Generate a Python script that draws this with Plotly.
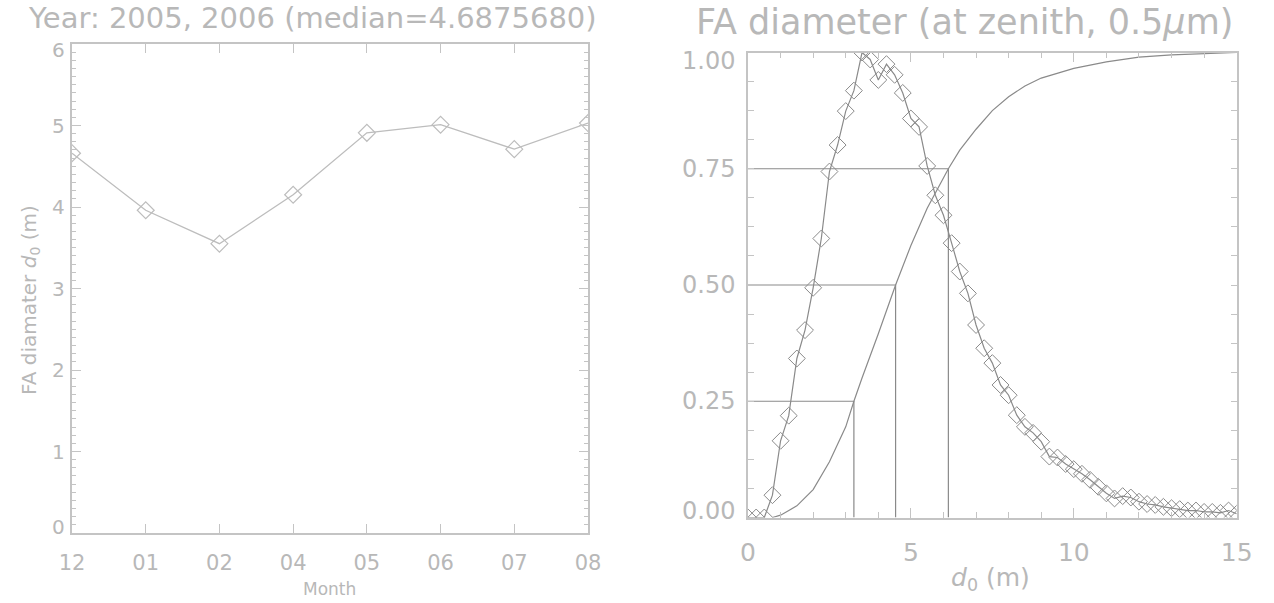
import plotly.graph_objects as go

# ---------------- data ----------------
months = ["12", "01", "02", "04", "05", "06", "07", "08"]
month_d0 = [4.66, 3.96, 3.55, 4.15, 4.91, 5.01, 4.71, 5.03]

hist_x = [0.00, 0.25, 0.50, 0.75, 1.00, 1.25, 1.50, 1.75, 2.00, 2.25, 2.50, 2.75,
          3.00, 3.25, 3.50, 3.75, 4.00, 4.25, 4.50, 4.75, 5.00, 5.25, 5.50, 5.75,
          6.00, 6.25, 6.50, 6.75, 7.00, 7.25, 7.50, 7.75, 8.00, 8.25, 8.50, 8.75,
          9.00, 9.25, 9.50, 9.75, 10.00, 10.25, 10.50, 10.75, 11.00, 11.25, 11.50,
          11.75, 12.00, 12.25, 12.50, 12.75, 13.00, 13.25, 13.50, 13.75, 14.00,
          14.25, 14.50, 14.75, 15.00]
hist_y = [0.0, 0.0, 0.0, 0.048, 0.165, 0.219, 0.342, 0.403, 0.494, 0.600, 0.744, 0.801,
          0.874, 0.918, 1.000, 0.985, 0.941, 0.975, 0.952, 0.913, 0.858, 0.840, 0.756, 0.693,
          0.650, 0.590, 0.529, 0.482, 0.414, 0.364, 0.332, 0.285, 0.263, 0.220, 0.195, 0.182,
          0.163, 0.131, 0.129, 0.115, 0.104, 0.094, 0.081, 0.066, 0.052, 0.041, 0.046,
          0.043, 0.034, 0.029, 0.027, 0.023, 0.020, 0.018, 0.015, 0.015, 0.012,
          0.012, 0.010, 0.015, 0.008]

cum_x = [0.75, 1.0, 1.5, 2.0, 2.5, 3.0, 3.25, 3.5, 4.0, 4.53, 5.0, 5.5, 6.15, 6.5,
         7.0, 7.5, 8.0, 8.5, 9.0, 10.0, 11.0, 12.0, 13.0, 14.0, 15.0]
cum_y = [0.0, 0.005, 0.025, 0.06, 0.12, 0.195, 0.25, 0.30, 0.395, 0.5, 0.585, 0.665,
         0.75, 0.79, 0.835, 0.875, 0.905, 0.928, 0.945, 0.966, 0.98, 0.99, 0.995,
         0.998, 1.0]

quart_levels = [0.25, 0.50, 0.75]
quart_x = [3.25, 4.53, 6.15]

left_yticks = [0, 1, 2, 3, 4, 5, 6]
right_yticks = [0.0, 0.25, 0.50, 0.75, 1.00]
right_yticklabels = ["0.00", "0.25", "0.50", "0.75", "1.00"]

left_title = "Year: 2005, 2006 (median=4.6875680)"
right_title = "FA diameter (at zenith, 0.5<i>μ</i>m)"

# ---------------- styling ----------------
W, H = 1274, 603
FONT = "DejaVu Sans"
TXT = "#b8b8b8"
AX = "#c4c4c4"
LINE_L = "#bdbdbd"
LINE_R = "#8a8a8a"


def px(xp):
    return xp / W


def py(yp):
    return 1 - yp / H


fig = go.Figure()

# left panel
fig.add_trace(go.Scatter(
    x=list(range(len(months))), y=month_d0, mode="lines+markers",
    line=dict(color=LINE_L, width=1.3),
    marker=dict(symbol="diamond-open", size=13, color=LINE_L, line=dict(width=1.2)),
    xaxis="x", yaxis="y", showlegend=False, cliponaxis=True))

# right panel
fig.add_trace(go.Scatter(
    x=hist_x, y=hist_y, mode="lines+markers",
    line=dict(color=LINE_R, width=1.2),
    marker=dict(symbol="diamond-open", size=13, color=LINE_R, line=dict(width=1.0)),
    xaxis="x2", yaxis="y2", showlegend=False, cliponaxis=True))
fig.add_trace(go.Scatter(
    x=cum_x, y=cum_y, mode="lines", line=dict(color=LINE_R, width=1.2),
    xaxis="x2", yaxis="y2", showlegend=False))
for lv, qx in zip(quart_levels, quart_x):
    fig.add_trace(go.Scatter(
        x=[0, qx, qx], y=[lv, lv, 0], mode="lines",
        line=dict(color=LINE_R, width=1.2),
        xaxis="x2", yaxis="y2", showlegend=False))

axis_common = dict(showgrid=False, zeroline=False, showline=True, linecolor=AX,
                   linewidth=1.5, mirror="ticks", ticks="inside", tickcolor=AX,
                   tickwidth=1.2, automargin=False)

fig.update_layout(
    width=W, height=H, margin=dict(l=0, r=0, t=0, b=0, autoexpand=False),
    paper_bgcolor="white", plot_bgcolor="white",
    font=dict(family=FONT, color=TXT),
    xaxis=dict(axis_common, domain=[px(72), px(588)], range=[0, 7],
               tickmode="array", tickvals=list(range(len(months))), ticktext=months,
               ticklen=9, tickfont=dict(size=21, color=TXT), ticklabelstandoff=10,
               anchor="y"),
    yaxis=dict(axis_common, domain=[py(533), py(44)], range=[0, 6],
               tickvals=left_yticks, showticklabels=False,
               ticklen=9,
               minor=dict(dtick=0.1, ticklen=4, tickcolor=AX, ticks="inside"),
               anchor="x"),
    xaxis2=dict(axis_common, domain=[px(748), px(1236.7)], range=[0, 15], dtick=5,
                ticklen=10, tickfont=dict(size=25, color=TXT), ticklabelstandoff=12,
                minor=dict(dtick=1, ticklen=6, tickcolor=AX, ticks="inside"),
                anchor="y2"),
    yaxis2=dict(axis_common, domain=[py(517.5), py(52.5)], range=[0, 1],
                tickvals=right_yticks, showticklabels=False,
                ticklen=6,
                minor=dict(dtick=0.0625, ticklen=6, tickcolor=AX, ticks="inside"),
                anchor="x2"),
)

# y tick labels (IDL style: end labels nudged inward)
for i, v in enumerate(left_yticks):
    shift = -6 if i == len(left_yticks) - 1 else (6 if i == 0 else 0)
    fig.add_annotation(xref="paper", yref="y", x=px(67), y=v, yshift=shift,
                       text=str(v), showarrow=False, xanchor="right", yanchor="middle",
                       font=dict(size=20, color=TXT))
for i, (v, t) in enumerate(zip(right_yticks, right_yticklabels)):
    shift = -9 if i == len(right_yticks) - 1 else (7 if i == 0 else 0)
    fig.add_annotation(xref="paper", yref="y2", x=px(737), y=v, yshift=shift,
                       text=t, showarrow=False, xanchor="right", yanchor="middle",
                       font=dict(size=24, color=TXT))

ann = [
    dict(text=left_title, x=px(312), y=py(18), font=dict(size=29, color=TXT)),
    dict(text=right_title, x=px(964), y=py(22), font=dict(size=35, color=TXT)),
    dict(text="Month", x=px(330), y=py(589), font=dict(size=17, color=TXT)),
    dict(text="<i>d</i><sub>0</sub> (m)", x=px(990), y=py(579), font=dict(size=25, color=TXT)),
    dict(text="FA diamater <i>d</i><sub>0</sub> (m)", x=px(30), y=py(300), textangle=-90,
         font=dict(size=20, color=TXT)),
]
for a in ann:
    fig.add_annotation(xref="paper", yref="paper", showarrow=False,
                       xanchor="center", yanchor="middle", **a)

fig.write_html("out.html")
